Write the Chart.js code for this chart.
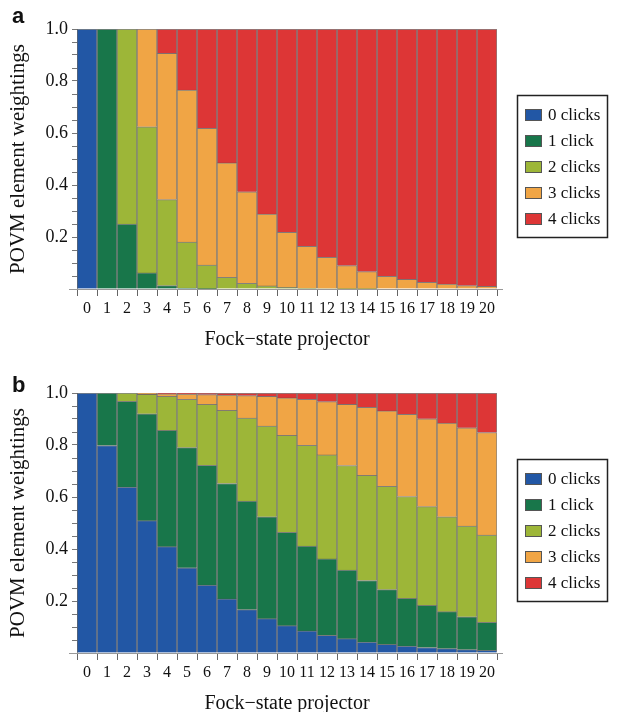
<!DOCTYPE html>
<html>
<head>
<meta charset="utf-8">
<script src="https://cdn.jsdelivr.net/npm/chart.js@4/dist/chart.umd.min.js"></script>
<style>
html, body { margin: 0; padding: 0; background: #fff; overflow: hidden; }
canvas { position: absolute; left: 0; }
#chartA { top: 0; }
#chartB { top: 364px; }
</style>
</head>
<body>
<canvas id="chartA" width="618" height="364"></canvas>
<canvas id="chartB" width="618" height="364"></canvas>
<script>
const projectors = ['0','1','2','3','4','5','6','7','8','9','10','11','12','13','14','15','16','17','18','19','20'];
const clickLabels = ['0 clicks', '1 click', '2 clicks', '3 clicks', '4 clicks'];
const clickColors = ['#2257a5', '#18764a', '#9db638', '#f0a545', '#dd3636'];
const yTicks = [0.2, 0.4, 0.6, 0.8, 1.0];

// panel a
const aZero  = [1, 0, 0, 0, 0, 0, 0, 0, 0, 0, 0, 0, 0, 0, 0, 0, 0, 0, 0, 0, 0];
const aOne   = [0, 1, 0.25, 0.062, 0.013, 0.004, 0.001, 0, 0, 0, 0, 0, 0, 0, 0, 0, 0, 0, 0, 0, 0];
const aTwo   = [0, 0, 0.75, 0.562, 0.331, 0.176, 0.091, 0.045, 0.022, 0.012, 0.006, 0.003, 0.002, 0.001, 0.001, 0, 0, 0, 0, 0, 0];
const aThree = [0, 0, 0, 0.376, 0.562, 0.585, 0.526, 0.44, 0.352, 0.276, 0.212, 0.161, 0.12, 0.089, 0.066, 0.049, 0.037, 0.026, 0.019, 0.013, 0.01];
const aFour  = [0, 0, 0, 0, 0.094, 0.235, 0.382, 0.515, 0.626, 0.712, 0.782, 0.836, 0.878, 0.91, 0.933, 0.951, 0.963, 0.974, 0.981, 0.987, 0.99];

// panel b
const bZero  = [1, 0.798, 0.638, 0.509, 0.409, 0.328, 0.261, 0.208, 0.167, 0.132, 0.105, 0.085, 0.068, 0.055, 0.042, 0.033, 0.027, 0.021, 0.017, 0.013, 0.01];
const bOne   = [0, 0.202, 0.33, 0.411, 0.447, 0.462, 0.461, 0.444, 0.417, 0.392, 0.359, 0.326, 0.294, 0.264, 0.237, 0.211, 0.183, 0.162, 0.142, 0.126, 0.108];
const bTwo   = [0, 0, 0.032, 0.075, 0.131, 0.186, 0.234, 0.281, 0.32, 0.349, 0.373, 0.388, 0.4, 0.402, 0.404, 0.397, 0.392, 0.38, 0.365, 0.349, 0.336];
const bThree = [0, 0, 0, 0.005, 0.01, 0.02, 0.038, 0.059, 0.086, 0.114, 0.144, 0.177, 0.205, 0.235, 0.262, 0.29, 0.316, 0.338, 0.36, 0.378, 0.394];
const bFour  = [0, 0, 0, 0, 0.003, 0.004, 0.006, 0.008, 0.01, 0.013, 0.019, 0.024, 0.033, 0.044, 0.055, 0.069, 0.082, 0.099, 0.116, 0.134, 0.152];

const serif = '"Liberation Serif", "Times New Roman", serif';

// panel letter, axis extension and boxed legend
const panelDecor = {
	id : 'panelDecor',
	afterDraw(chart, args, opts) {
		let ctx = chart.ctx, ca = chart.chartArea;
		ctx.save();
		// x axis line runs a little past the plot
		ctx.strokeStyle = '#999';
		ctx.lineWidth = 1;
		ctx.beginPath();
		ctx.moveTo(ca.left - 8, ca.bottom + 0.5);
		ctx.lineTo(ca.right + 6, ca.bottom + 0.5);
		ctx.stroke();

		ctx.fillStyle = '#111';
		ctx.font = 'bold 22px "Liberation Sans", Arial, sans-serif';
		ctx.textBaseline = 'alphabetic';
		ctx.textAlign = 'left';
		ctx.fillText(opts.letter, 12, opts.letterY);

		let x0 = ca.right + 20, y0 = ca.top + 66;
		ctx.strokeStyle = '#222';
		ctx.lineWidth = 1.5;
		ctx.strokeRect(x0 + 0.5, y0 + 0.5, 90, 142);
		ctx.font = '17px ' + serif;
		ctx.textBaseline = 'middle';
		chart.data.datasets.forEach((ds, i) => {
			let cy = y0 + 20 + i * 26;
			ctx.fillStyle = ds.backgroundColor;
			ctx.fillRect(x0 + 8, cy - 6, 17, 12);
			ctx.strokeStyle = '#555';
			ctx.lineWidth = 1;
			ctx.strokeRect(x0 + 8.5, cy - 5.5, 16, 11);
			ctx.fillStyle = '#111';
			ctx.fillText(ds.label, x0 + 31, cy + 1);
		});
		ctx.restore();
	}
};

function makeChart(id, series, letter, letterY) {
	return new Chart(document.getElementById(id).getContext('2d'), {
		type : 'bar',
		data : {
			labels   : projectors,
			datasets : series.map((vals, i) => ({
				label           : clickLabels[i],
				data            : vals,
				backgroundColor : clickColors[i],
				borderColor     : 'rgba(80,80,80,0.7)',
				borderWidth     : 1,
				barPercentage   : 1,
				categoryPercentage : 1
			}))
		},
		options : {
			responsive : false,
			animation  : false,
			layout     : { padding : { left : 0, right : 121, top : 29, bottom : 0 } },
			plugins    : {
				legend     : { display : false },
				tooltip    : { enabled : false },
				panelDecor : { letter : letter, letterY : letterY }
			},
			scales : {
				x : {
					stacked : true,
					afterFit : (s) => { s.height = 75; },
					grid : { offset : true, drawOnChartArea : false, tickLength : 7, color : '#666' },
					border : { display : true, color : '#999' },
					ticks : { autoSkip : false, maxRotation : 0, padding : 3, color : '#111', font : { family : serif, size : 16 } },
					title : { display : true, text : 'Fock\u2212state projector', color : '#111', font : { family : serif, size : 20 }, padding : { top : 0, bottom : 12 } }
				},
				y : {
					stacked : true,
					min : 0,
					max : 1,
					afterFit : (s) => { s.width = 77; },
					grid : { drawOnChartArea : false, tickLength : 5, color : '#777' },
					border : { display : true, color : '#999' },
					ticks : {
						stepSize : 0.05,
						autoSkip : false,
						padding : 4,
						color : '#111',
						font : { family : serif, size : 18 },
						callback : (v) => yTicks.some(t => Math.abs(t - v) < 1e-6) ? v.toFixed(1) : ''
					},
					title : { display : true, text : 'POVM element weightings', color : '#111', font : { family : serif, size : 21 }, padding : { top : 6, bottom : 0 } }
				}
			}
		},
		plugins : [panelDecor]
	});
}

let chartA = makeChart('chartA', [aZero, aOne, aTwo, aThree, aFour], 'a', 23);
let chartB = makeChart('chartB', [bZero, bOne, bTwo, bThree, bFour], 'b', 28);
</script>
</body>
</html>
